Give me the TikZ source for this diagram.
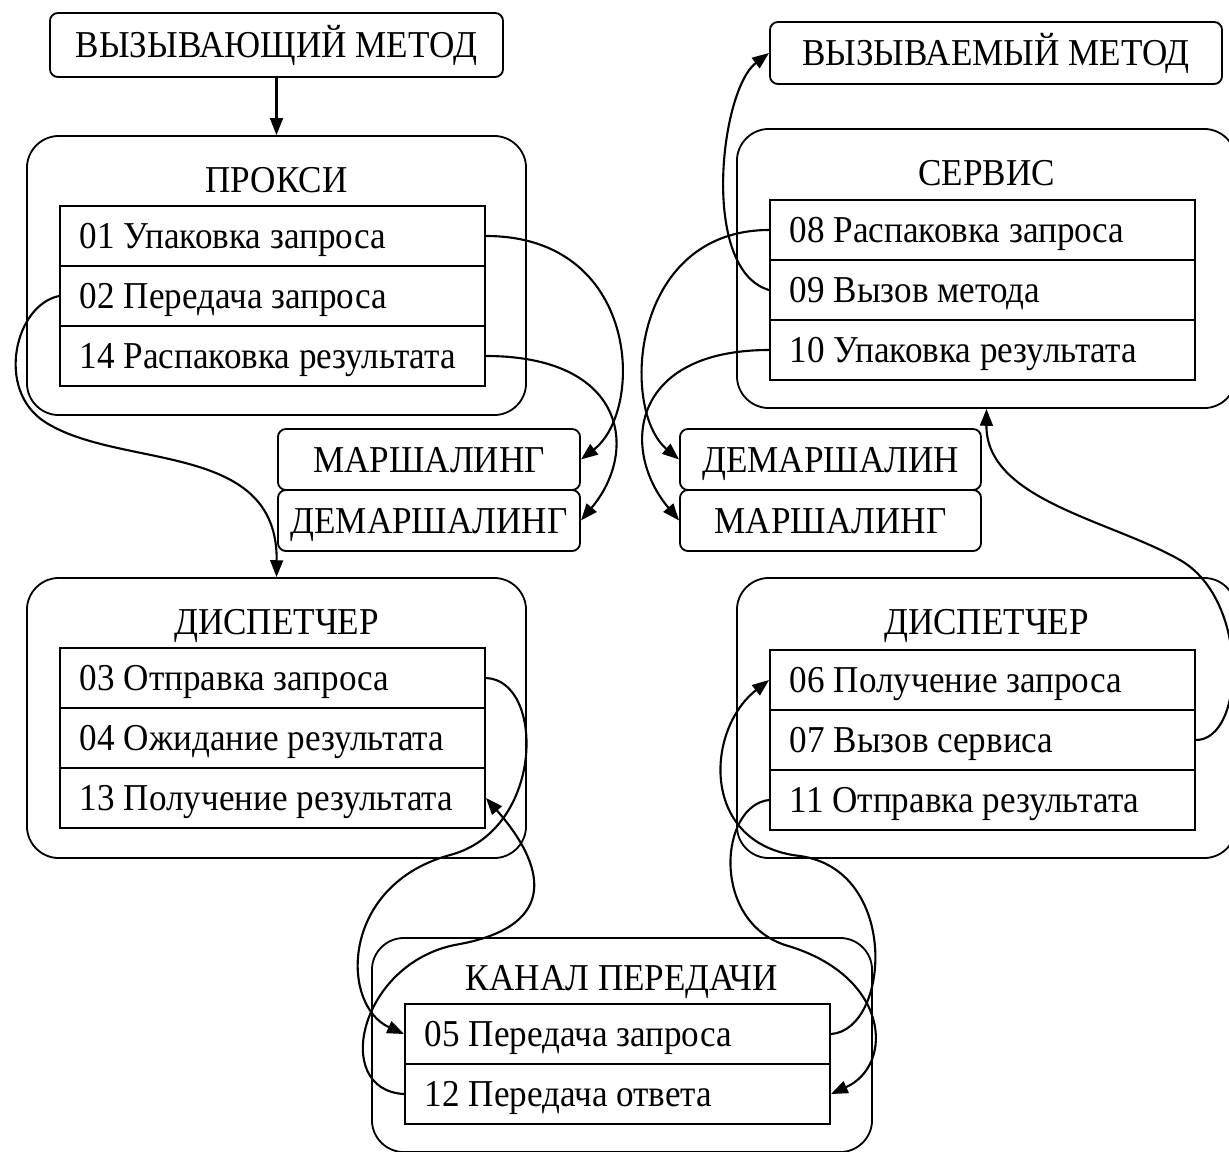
\documentclass[tikz,border=0pt]{standalone}
\usepackage{fontspec}
\setmainfont{Liberation Serif}[FakeStretch=0.925]
\usepackage{tikz}
\usetikzlibrary{arrows.meta}
\newcommand{\diagfont}{\fontsize{27pt}{32pt}\selectfont}
\tikzset{
  methodbox/.style={rectangle, rounded corners=0.2cm, draw=black, line width=1.3pt, text height=0.83cm, text depth=0.2cm, inner sep=0pt, font=\diagfont},
  layer/.style={rectangle, rounded corners=0.8cm, draw=black, line width=1.3pt, minimum width=12.475cm, minimum height=6.975cm},
  layertitle/.style={inner sep=0pt, text height=0.83cm, text depth=0.2cm, font=\diagfont},
  entry/.style={rectangle, draw=black, line width=1.3pt, text width=9.625cm, align=left, inner xsep=0.5cm, inner ysep=0pt, minimum height=1.5cm, text height=0.83cm, text depth=0.2cm, font=\diagfont, execute at begin node={\spaceskip=0.23em plus 0.1em\relax}},
  conn/.style={-{Triangle[length=4.2mm, width=3.2mm]}, line width=1.5pt}
}
\begin{document}
\begin{tikzpicture}[x=0.025cm, y=-0.025cm]
            \useasboundingbox (0, 0) rectangle (1229, 1151);

            % Методы
            \node[methodbox, minimum width=11.325cm, minimum height=1.6cm] (caller) at (276.5, 45) {ВЫЗЫВАЮЩИЙ МЕТОД};
            \node[methodbox, minimum width=11.3cm, minimum height=1.55cm] (callee) at (996, 53) {ВЫЗЫВАЕМЫЙ МЕТОД};

            % Прокси
            \node[layer] (proxy) at (276.5, 275.5) {};
            \node[layertitle] (proxytitle) at (276.5, 180) {ПРОКСИ};
            \node[entry] (p01) at (272.5, 236) {01 Упаковка запроса};
            \node[entry] (p02) at (272.5, 296) {02 Передача запроса};
            \node[entry] (p14) at (272.5, 356) {14 Распаковка результата};

            % Сервис
            \node[layer] (service) at (986.5, 268.5) {};
            \node[layertitle] (servicetitle) at (986.5, 173) {СЕРВИС};
            \node[entry] (s08) at (982.5, 230) {08 Распаковка запроса};
            \node[entry] (s09) at (982.5, 290) {09 Вызов метода};
            \node[entry] (s10) at (982.5, 350) {10 Упаковка результата};

            % Маршалинг
            \node[methodbox, minimum width=7.55cm, minimum height=1.525cm] (marshL) at (429, 459.5) {МАРШАЛИНГ};
            \node[methodbox, minimum width=7.55cm, minimum height=1.525cm] (demarshL) at (429, 520.5) {ДЕМАРШАЛИНГ};
            \node[methodbox, minimum width=7.525cm, minimum height=1.525cm] (demarshR) at (830.5, 459.5) {ДЕМАРШАЛИН};
            \node[methodbox, minimum width=7.525cm, minimum height=1.525cm] (marshR) at (830.5, 520.5) {МАРШАЛИНГ};

            % Диспетчер клиента
            \node[layer, minimum height=7cm] (dispL) at (276.5, 718) {};
            \node[layertitle] (displtitle) at (276.5, 622) {ДИСПЕТЧЕР};
            \node[entry] (d03) at (272.5, 678) {03 Отправка запроса};
            \node[entry] (d04) at (272.5, 738) {04 Ожидание результата};
            \node[entry] (d13) at (272.5, 798) {13 Получение результата};

            % Диспетчер сервера
            \node[layer, minimum height=7cm] (dispR) at (986.5, 718) {};
            \node[layertitle] (disprtitle) at (986.5, 622) {ДИСПЕТЧЕР};
            \node[entry] (d06) at (982.5, 680) {06 Получение запроса};
            \node[entry] (d07) at (982.5, 740) {07 Вызов сервиса};
            \node[entry] (d11) at (982.5, 800) {11 Отправка результата};

            % Канал передачи
            \node[layer, minimum width=12.5cm, minimum height=5.35cm] (chan) at (622, 1045) {};
            \node[layertitle] (chantitle) at (622, 978) {КАНАЛ ПЕРЕДАЧИ};
            \node[entry] (c05) at (617.5, 1034) {05 Передача запроса};
            \node[entry] (c12) at (617.5, 1094) {12 Передача ответа};

            % Вызов прокси
            \draw[conn] (caller.south) -- (proxy.north);

            % Маршалинг запроса и ответа
            \draw[conn] (p01.east) .. controls (640, 236) and (645, 410) .. (marshL.east);
            \draw[conn] (p14.east) .. controls (625, 356) and (640, 450) .. (demarshL.east);
            \draw[conn] (s08.west) .. controls (630, 230) and (620, 410) .. (demarshR.west);
            \draw[conn] (s10.west) .. controls (630, 350) and (620, 450) .. (marshR.west);

            % Вызов метода
            \draw[conn] (s09.west) .. controls (700, 270) and (720, 90) .. (callee.west);

            % Передача запроса диспетчеру (по левому краю)
            \draw[conn] (p02.west) .. controls (15, 305) and (-5, 390) .. (45, 422)
                .. controls (120, 470) and (278, 440) .. (dispL.north);

            % Вызов сервиса (по правому краю)
            \draw[conn] (d07.east) .. controls (1245, 740) and (1250, 600) .. (1180, 560)
                .. controls (1110, 520) and (986, 500) .. (service.south);

            % Канал: запрос
            \draw[conn] (d03.east) .. controls (545, 680) and (545, 830) .. (450, 855)
                .. controls (340, 885) and (340, 1005) .. (c05.west);
            \draw[conn] (c05.east) .. controls (890, 1030) and (900, 870) .. (800, 856)
                .. controls (700, 845) and (705, 730) .. (d06.west);

            % Канал: ответ
            \draw[conn] (d11.west) .. controls (720, 805) and (710, 920) .. (785, 945)
                .. controls (890, 975) and (895, 1065) .. (c12.east);
            \draw[conn] (c12.west) .. controls (330, 1090) and (360, 960) .. (460, 944)
                .. controls (560, 925) and (545, 865) .. (d13.east);

        \end{tikzpicture}
\end{document}
